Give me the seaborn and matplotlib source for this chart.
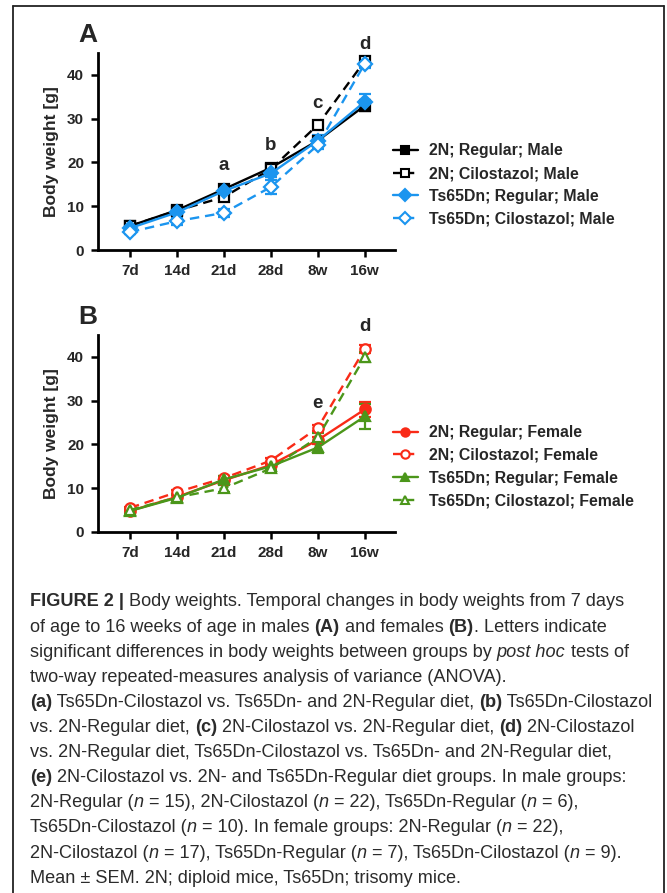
import matplotlib
matplotlib.use("Agg")
import matplotlib.pyplot as plt
import matplotlib.transforms as mtransforms
from matplotlib.lines import Line2D
import seaborn as sns
import numpy as np
import pandas as pd

# ---- data ----
times = ["7d", "14d", "21d", "28d", "8w", "16w"]

male_labels = ["2N; Regular; Male", "2N; Cilostazol; Male",
               "Ts65Dn; Regular; Male", "Ts65Dn; Cilostazol; Male"]
male_2n_reg = [5.5, 9.1, 13.9, 18.8, 25.0, 33.0]
male_2n_cil = [5.5, 9.0, 12.1, 18.5, 28.6, 43.2]
male_ts_reg = [5.0, 8.6, 13.5, 17.5, 25.0, 33.9]
male_ts_cil = [4.1, 6.6, 8.5, 14.4, 24.0, 42.6]
male_2n_reg_sem = [0.4, 0.5, 1.0, 0.6, 0.6, 1.2]
male_2n_cil_sem = [0.3, 0.4, 0.6, 0.5, 0.7, 0.8]
male_ts_reg_sem = [0.5, 0.6, 0.9, 0.8, 1.2, 1.8]
male_ts_cil_sem = [0.5, 0.8, 0.9, 1.5, 1.0, 1.0]

female_labels = ["2N; Regular; Female", "2N; Cilostazol; Female",
                 "Ts65Dn; Regular; Female", "Ts65Dn; Cilostazol; Female"]
female_2n_reg = [4.8, 8.0, 11.8, 15.3, 21.0, 28.0]
female_2n_cil = [5.5, 9.1, 12.3, 16.3, 23.8, 41.8]
female_ts_reg = [4.8, 7.8, 12.0, 15.0, 19.3, 26.4]
female_ts_cil = [5.0, 7.9, 10.0, 14.5, 21.6, 40.0]
female_2n_reg_sem = [0.3, 0.4, 0.5, 0.5, 0.8, 1.8]
female_2n_cil_sem = [0.3, 0.4, 0.5, 0.6, 0.7, 0.9]
female_ts_reg_sem = [0.5, 0.6, 0.8, 0.9, 1.2, 2.9]
female_ts_cil_sem = [0.4, 0.5, 0.8, 0.9, 1.0, 1.2]

male_letters = [("a", 2, 19.2), ("b", 3, 23.8), ("c", 4, 33.4), ("d", 5, 47.0)]
female_letters = [("e", 4, 29.3), ("d", 5, 47.0)]

BLACK = "#000000"
BLUE = "#1b95ef"
RED = "#f92a17"
GREEN = "#4b961a"

sns.set_theme(style="ticks")
plt.rcParams["font.family"] = ["Liberation Sans", "DejaVu Sans"]

fig = plt.figure(figsize=(6.67, 8.93), dpi=100)


def draw_panel(ax, series, sems, labels, styles, letters, panel):
    x = np.arange(len(times))
    for vals, err, lab, (col, mk, ls, filled) in zip(series, sems, labels, styles):
        df = pd.DataFrame({"x": x, "w": vals})
        ax.errorbar(x, vals, yerr=err, fmt="none", ecolor=col, elinewidth=1.6,
                    capsize=4, capthick=1.6, zorder=2)
        sns.lineplot(data=df, x="x", y="w", ax=ax, color=col, marker=mk,
                     linestyle=ls, dashes=False, linewidth=1.7, markersize=7.5,
                     markerfacecolor=col if filled else "white",
                     markeredgecolor=col, markeredgewidth=1.6, zorder=3)
        if ls == "--":
            ax.lines[-1].set_dashes((4, 2.5))
    ax.set_xlim(-0.68, 5.64)
    ax.set_ylim(0, 45)
    ax.set_yticks([0, 10, 20, 30, 40])
    ax.set_xticks(x)
    ax.set_xticklabels(times)
    ax.set_xlabel("")
    ax.set_ylabel("Body weight [g]", fontsize=12.5, fontweight="bold", labelpad=6)
    for lbl in ax.get_xticklabels() + ax.get_yticklabels():
        lbl.set_fontweight("bold")
        lbl.set_fontsize(11)
    ax.tick_params(axis="both", length=5, width=1.8, color="black", pad=5)
    for s in ["left", "bottom"]:
        ax.spines[s].set_linewidth(2.0)
        ax.spines[s].set_color("black")
    sns.despine(ax=ax)
    for txt, xi, yi in letters:
        ax.text(xi, yi, txt, ha="center", va="center", fontsize=13.5,
                fontweight="bold", clip_on=False)
    # legend
    handles = []
    for col, mk, ls, filled in styles:
        h = Line2D([], [], color=col, marker=mk, linestyle=ls, linewidth=1.7,
                   markersize=6, markerfacecolor=col if filled else "white",
                   markeredgecolor=col, markeredgewidth=1.5)
        handles.append(h)
    ax.legend(handles, labels, loc="center left", bbox_to_anchor=(0.945, 0.33),
              frameon=False, handlelength=1.6, handletextpad=0.7,
              labelspacing=0.5, prop={"weight": "bold", "size": 11.4})
    ax.text(-0.034, 1.09, panel, transform=ax.transAxes, fontsize=19,
            fontweight="bold", ha="center", va="center")


axA = fig.add_axes([0.147, 0.720, 0.445, 0.2206])
draw_panel(axA,
           [male_2n_reg, male_2n_cil, male_ts_reg, male_ts_cil],
           [male_2n_reg_sem, male_2n_cil_sem, male_ts_reg_sem, male_ts_cil_sem],
           male_labels,
           [(BLACK, "s", "-", True), (BLACK, "s", "--", False),
            (BLUE, "D", "-", True), (BLUE, "D", "--", False)],
           male_letters, "A")

axB = fig.add_axes([0.147, 0.4043, 0.445, 0.2206])
draw_panel(axB,
           [female_2n_reg, female_2n_cil, female_ts_reg, female_ts_cil],
           [female_2n_reg_sem, female_2n_cil_sem, female_ts_reg_sem, female_ts_cil_sem],
           female_labels,
           [(RED, "o", "-", True), (RED, "o", "--", False),
            (GREEN, "^", "-", True), (GREEN, "^", "--", False)],
           female_letters, "B")

# outer frame (open at bottom)
frame_kw = dict(color="#222222", linewidth=1.3, transform=fig.transFigure)
fig.add_artist(Line2D([13 / 667, 13 / 667], [0, 1 - 6 / 893], **frame_kw))
fig.add_artist(Line2D([13 / 667, 664 / 667], [1 - 6 / 893, 1 - 6 / 893], **frame_kw))
fig.add_artist(Line2D([664 / 667, 664 / 667], [0, 1 - 6 / 893], **frame_kw))

# caption with mixed bold / italic runs
B, I, N = "bold", "italic", "normal"
caption = [
    [("FIGURE 2 | ", B), ("Body weights. Temporal changes in body weights from 7 days", N)],
    [("of age to 16 weeks of age in males ", N), ("(A)", B), (" and females ", N), ("(B)", B),
     (". Letters indicate", N)],
    [("significant differences in body weights between groups by ", N), ("post hoc", I),
     (" tests of", N)],
    [("two-way repeated-measures analysis of variance (ANOVA).", N)],
    [("(a)", B), (" Ts65Dn-Cilostazol vs. Ts65Dn- and 2N-Regular diet, ", N), ("(b)", B),
     (" Ts65Dn-Cilostazol", N)],
    [("vs. 2N-Regular diet, ", N), ("(c)", B), (" 2N-Cilostazol vs. 2N-Regular diet, ", N),
     ("(d)", B), (" 2N-Cilostazol", N)],
    [("vs. 2N-Regular diet, Ts65Dn-Cilostazol vs. Ts65Dn- and 2N-Regular diet,", N)],
    [("(e)", B), (" 2N-Cilostazol vs. 2N- and Ts65Dn-Regular diet groups. In male groups:", N)],
    [("2N-Regular (", N), ("n", I), (" = 15), 2N-Cilostazol (", N), ("n", I),
     (" = 22), Ts65Dn-Regular (", N), ("n", I), (" = 6),", N)],
    [("Ts65Dn-Cilostazol (", N), ("n", I), (" = 10). In female groups: 2N-Regular (", N),
     ("n", I), (" = 22),", N)],
    [("2N-Cilostazol (", N), ("n", I), (" = 17), Ts65Dn-Regular (", N), ("n", I),
     (" = 7), Ts65Dn-Cilostazol (", N), ("n", I), (" = 9).", N)],
    [("Mean \u00b1 SEM. 2N; diploid mice, Ts65Dn; trisomy mice.", N)],
]

renderer = fig.canvas.get_renderer()
ident = mtransforms.IdentityTransform()
H = 893
for i, parts in enumerate(caption):
    ypix = H - (602 + i * 25.1)
    xpix = 30
    for txt, st in parts:
        t = fig.text(xpix, ypix, txt, transform=ident, fontsize=13.1,
                     color="#2b2b2b", va="center", ha="left",
                     fontweight="bold" if st == B else "normal",
                     fontstyle="italic" if st == I else "normal")
        xpix += t.get_window_extent(renderer).width

fig.savefig("out.png", dpi=100)
